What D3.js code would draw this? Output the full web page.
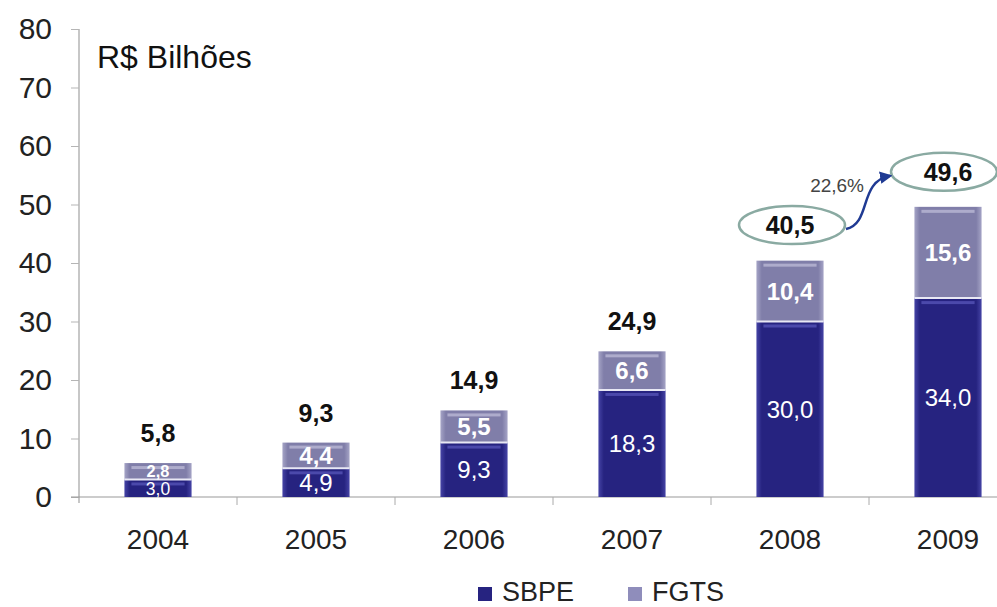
<!DOCTYPE html>
<html><head><meta charset="utf-8">
<script src="https://cdn.jsdelivr.net/npm/d3@7"></script>
<style>
html,body{margin:0;padding:0;background:#fff;overflow:hidden}
text{font-family:"Liberation Sans",Arial,sans-serif}
</style></head>
<body>
<svg id="c" width="997" height="607"></svg>
<script>
const years = ["2004","2005","2006","2007","2008","2009"];
const sbpe = [3.0, 4.9, 9.3, 18.3, 30.0, 34.0];
const fgts = [2.8, 4.4, 5.5, 6.6, 10.4, 15.6];
const totals = [5.8, 9.3, 14.9, 24.9, 40.5, 49.6];
const yTicks = [0,10,20,30,40,50,60,70,80];
const seriesNames = ["SBPE","FGTS"];
const growthLabel = "22,6%";
const unitLabel = "R$ Bilhões";
const fmt = v => v.toFixed(1).replace(".", ",");

const svg = d3.select("#c");
const x = d3.scaleBand().domain(years).range([79, 1027]).paddingInner(0.575).paddingOuter(0.2875);
const y = d3.scaleLinear().domain([0, 80]).range([497, 29]);

const defs = svg.append("defs");
function grad(id, edge, mid) {
  const g = defs.append("linearGradient").attr("id", id).attr("x1","0").attr("x2","1").attr("y1","0").attr("y2","0");
  g.append("stop").attr("offset","0").attr("stop-color", edge);
  g.append("stop").attr("offset","0.08").attr("stop-color", mid);
  g.append("stop").attr("offset","0.92").attr("stop-color", mid);
  g.append("stop").attr("offset","1").attr("stop-color", edge);
}
grad("gS", "#4644a6", "#262380");
grad("gF", "#a5a4c6", "#807ea9");
defs.append("marker").attr("id","arr").attr("viewBox","0 0 10 10").attr("refX",8).attr("refY",5)
  .attr("markerWidth",5).attr("markerHeight",5).attr("orient","auto")
  .append("path").attr("d","M0,0 L10,5 L0,10 z").attr("fill","#1f3a93");

// y axis
const yAxis = d3.axisLeft(y).tickValues(yTicks).tickSize(8).tickPadding(19);
const gy = svg.append("g").attr("transform","translate(79,0)").call(yAxis);
gy.select(".domain").attr("stroke","#b5b5b5").attr("stroke-width",1.5).attr("d","M0,29V503");
gy.selectAll(".tick line").attr("stroke","#b5b5b5");
gy.selectAll(".tick text").attr("font-size",30).attr("fill","#222").style("font-family","'Liberation Sans',Arial,sans-serif");

// x axis
const gx = svg.append("g").attr("transform","translate(0,497)");
gx.append("line").attr("x1",71).attr("x2",997).attr("stroke","#999").attr("stroke-width",1.2);
gx.selectAll("line.t").data(years.slice(1)).join("line").attr("class","t")
  .attr("x1", d => x(d) - x.step()*x.paddingInner()/2).attr("x2", d => x(d) - x.step()*x.paddingInner()/2)
  .attr("y1",0).attr("y2",8).attr("stroke","#aaa");
svg.append("g").selectAll("text").data(years).join("text")
  .attr("x", d => x(d) + x.bandwidth()/2).attr("y", 549)
  .attr("text-anchor","middle").attr("font-size",28).attr("fill","#222").text(d => d);

// bars
function seg(g, y0, y1, fillId, edge) {
  const bw = x.bandwidth();
  g.append("rect").attr("x",0).attr("y",y1).attr("width",bw).attr("height",Math.max(0,y0-y1))
    .attr("fill",`url(#${fillId})`);
  g.append("rect").attr("x",7).attr("y",y1+3).attr("width",bw-14).attr("height",3)
    .attr("fill",edge).attr("opacity",0.8);
}
const fitSize = h => Math.min(24, Math.max(15, h * 1.0));
years.forEach((yr, i) => {
  const g = svg.append("g").attr("transform",`translate(${x(yr)},0)`);
  seg(g, y(0), y(sbpe[i]), "gS", "#5553b5");
  seg(g, y(sbpe[i]), y(sbpe[i]+fgts[i]), "gF", "#b9b8d4");
  g.append("line").attr("x1",0).attr("x2",x.bandwidth()).attr("y1",y(sbpe[i])).attr("y2",y(sbpe[i]))
    .attr("stroke","#e8e8f4").attr("stroke-width",2);
  const cx = x.bandwidth()/2;
  const h1 = y(0) - y(sbpe[i]), h2 = y(sbpe[i]) - y(sbpe[i]+fgts[i]);
  g.append("text").attr("x",cx).attr("y",(y(0)+y(sbpe[i]))/2).attr("dy","0.36em")
    .attr("text-anchor","middle").attr("font-size",fitSize(h1)).attr("fill","#fff").text(fmt(sbpe[i]));
  g.append("text").attr("x",cx).attr("y",(y(sbpe[i])+y(sbpe[i]+fgts[i]))/2).attr("dy","0.36em")
    .attr("text-anchor","middle").attr("font-size",fitSize(h2)).attr("font-weight","bold").attr("fill","#fff").text(fmt(fgts[i]));
});

// totals
years.forEach((yr, i) => {
  const cx = x(yr) + x.bandwidth()/2;
  const big = i >= 4;
  const cy = y(totals[i]) - (big ? 35 : 30);
  if (big) {
    svg.append("ellipse").attr("cx", cx + (i===4 ? 2 : -4)).attr("cy", cy).attr("rx",53).attr("ry",19)
      .attr("fill","#fff").attr("stroke","#8aaaa2").attr("stroke-width",2.5);
  }
  svg.append("text").attr("x",cx).attr("y",cy).attr("dy","0.36em").attr("text-anchor","middle")
    .attr("font-size",25).attr("font-weight","bold").attr("fill","#111").text(fmt(totals[i]));
});

// growth arrow
const x8 = x("2008") + x.bandwidth()/2 + 2, x9 = x("2009") + x.bandwidth()/2 - 4;
const y8 = y(totals[4]) - 35, y9 = y(totals[5]) - 35;
svg.append("path")
  .attr("d", `M${x8+54},${y8+4} C${x8+80},${y8-2} ${x8+66},${y9+10} ${x9-54},${y9+4}`)
  .attr("fill","none").attr("stroke","#1f3a93").attr("stroke-width",2.5).attr("marker-end","url(#arr)");
svg.append("text").attr("x", x8+72).attr("y", y9+20).attr("text-anchor","end")
  .attr("font-size",19).attr("fill","#444").text(growthLabel);

// title
svg.append("text").attr("x",97).attr("y",68).attr("font-size",32).attr("fill","#111").text(unitLabel);

// legend
const lg = svg.append("g");
const legItems = [{n:seriesNames[0], c:"#262380", x:478},{n:seriesNames[1], c:"#8f8dbb", x:628}];
legItems.forEach(d => {
  lg.append("rect").attr("x",d.x).attr("y",587).attr("width",14).attr("height",14).attr("fill",d.c);
  lg.append("text").attr("x",d.x+24).attr("y",601).attr("font-size",27).attr("fill","#222").text(d.n);
});
</script>
</body></html>
